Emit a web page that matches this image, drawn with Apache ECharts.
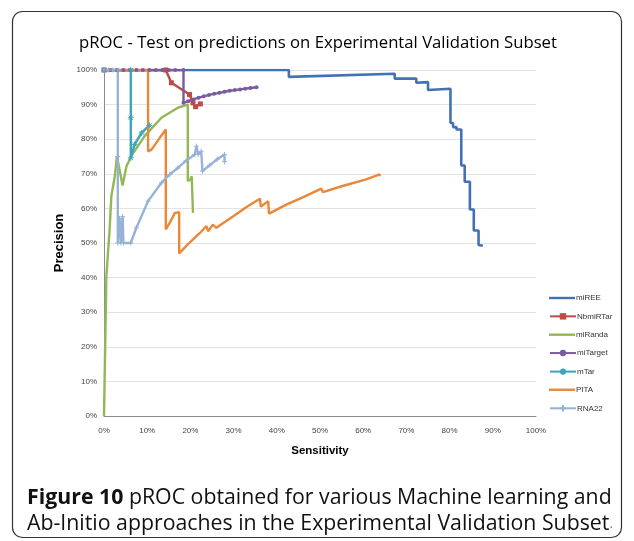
<!DOCTYPE html>
<html>
<head>
<meta charset="utf-8">
<script src="https://cdn.jsdelivr.net/npm/echarts@6/dist/echarts.min.js"></script>
<style>
  html, body { margin: 0; padding: 0; background: #fff; }
  #chart { width: 634px; height: 541px; }
</style>
</head>
<body>
<div id="chart"></div>
<script>
  // [sensitivity %, precision %]
  var miREE = [[0,100],[42.8,100],[42.8,98.0],[67.3,98.9],[67.3,97.5],[72.3,97.5],[72.3,96.3],[75,96.5],[75,94.2],
    [80.2,94.6],[80.2,84.7],[80.8,84.7],[80.8,83.5],[81.6,83.5],[81.6,82.8],[82.7,82.8],[82.7,72.4],[83.5,72.4],
    [83.5,67.7],[84.7,67.7],[84.7,59.7],[85.6,59.7],[85.6,53.6],[86.7,53.6],[86.7,49.4],[87.7,49.2]];
  var nbmiRTar = [[0,100],[14.3,100],[15.6,96.3],[19.8,92.9],[20.6,90.5],[21.2,89.4],[22.3,90.2]];
  var miRanda = [[0,0],[0.55,40.4],[1.3,53.9],[1.7,63.5],[2.5,69.3],[3.0,75.1],[4.3,66.6],[5.2,72.2],[6.3,75.1],
    [9.4,80.9],[13.3,86.2],[17.1,89.1],[19.4,90.0],[19.4,67.9],[20.0,68.3],[20.3,69.3],[20.6,69.2],[20.6,58.7]];
  var miTarget = [[0,100],[1.5,100],[3.0,100],[4.5,100],[6.0,100],[7.5,100],[9.0,100],[10.5,100],[12.0,100],
    [13.5,100],[15.0,100],[16.5,100],[18.4,100],[18.4,90.5],[19.5,91.0],[20.7,91.5],[21.9,92.0],[23.1,92.4],
    [24.3,92.8],[25.5,93.1],[26.7,93.4],[27.9,93.7],[29.1,94.0],[30.3,94.2],[31.5,94.4],[32.7,94.6],[33.9,94.8],[35.3,95.0]];
  var mTar = [[0,100],[6.2,100],[6.2,86.2],[6.2,74.6],[7.1,78.5],[8.7,81.8],[10.5,84.0]];
  var pita = [[0,100],[10.2,100],[10.2,76.5],[11.0,77.0],[12.9,80.4],[14.3,82.8],[14.3,53.9],[15.2,55.8],[16.4,58.7],
    [17.4,58.9],[17.4,47.0],[19.4,49.6],[22.2,52.9],[23.7,54.9],[24.1,53.4],[25.2,55.3],[26.0,54.4],[30.0,57.8],
    [33.0,60.4],[36.1,62.8],[36.3,60.5],[38.0,62.1],[38.2,58.5],[42.2,61.1],[46.0,63.2],[50.3,65.7],[50.7,64.7],
    [55.0,66.4],[60.7,68.4],[63.8,69.8],[63.8,69.3]];
  var rna22 = [[0,100],[1.0,100],[2.0,100],[3.2,100],[3.2,75.0],[3.2,50.0],[3.6,57.1],[3.9,50.0],[4.3,57.6],
    [4.5,50.0],[6.2,50.0],[7.5,54.4],[10.2,62.1],[13.3,67.4],[15.2,69.8],[17.1,71.7],[19.0,73.8],[21.0,75.6],
    [21.4,78.0],[21.8,75.6],[22.5,76.5],[22.8,70.8],[24.5,72.5],[26.2,74.2],[27.9,75.6],[27.9,73.5]];
  var tickLabels = ['0%','10%','20%','30%','40%','50%','60%','70%','80%','90%','100%'];
  var legendNames = ['miREE', 'NbmiRTar', 'miRanda', 'miTarget', 'mTar', 'PITA', 'RNA22'];
  var plainLine = { miREE: true, miRanda: true, PITA: true };

  var starPath = 'path://M0,5L10,5M5,0L5,10M1.5,1.5L8.5,8.5M8.5,1.5L1.5,8.5';
  var plusPath = 'path://M0,5L10,5M5,0L5,10';

  function line(name, data, color, extra) {
    var s = {
      name: name, type: 'line', data: data,
      symbol: 'none', showSymbol: false,
      lineStyle: { color: color, width: 2.4 },
      itemStyle: { color: color },
      animation: false
    };
    for (var k in extra) s[k] = extra[k];
    return s;
  }

  // one small legend per entry, so plain lines and marker lines can get different icons
  var legends = legendNames.map(function (n, i) {
    var plain = plainLine[n];
    return {
      data: [plain ? { name: n, icon: 'rect' } : n],
      orient: 'vertical', left: 544, top: 289 + i * 18.35,
      itemWidth: 26, itemHeight: plain ? 2.4 : 8,
      textStyle: { fontSize: 8, color: '#333', fontFamily: 'Liberation Sans', padding: [0, 0, 0, -4] }
    };
  });

  var chart = echarts.init(document.getElementById('chart'));
  chart.setOption({
    animation: false,
    backgroundColor: '#fff',
    title: {
      text: 'pROC - Test on predictions on Experimental Validation Subset',
      left: 313, textAlign: 'center', top: 30,
      textStyle: { fontFamily: 'Open Sans', fontSize: 16.7, fontWeight: 'normal', color: '#000' }
    },
    grid: { left: 104, right: 98, top: 70, bottom: 125 },
    xAxis: {
      type: 'value', min: 0, max: 100, interval: 10,
      name: 'Sensitivity', nameLocation: 'middle', nameGap: 29,
      nameTextStyle: { fontFamily: 'Liberation Sans', fontWeight: 'bold', fontSize: 11.5, color: '#000' },
      axisLine: { lineStyle: { color: '#8c8c8c', width: 1 } },
      axisTick: { show: false },
      splitLine: { show: false },
      axisLabel: { fontSize: 8, color: '#444', fontFamily: 'Liberation Sans', margin: 11,
        formatter: function (v) { return tickLabels[Math.round(v / 10)]; } }
    },
    yAxis: {
      type: 'value', min: 0, max: 100, interval: 10,
      name: 'Precision', nameLocation: 'middle', nameGap: 34,
      nameTextStyle: { fontFamily: 'Liberation Sans', fontWeight: 'bold', fontSize: 13, color: '#000' },
      axisLine: { show: true, lineStyle: { color: '#8c8c8c', width: 1 } },
      axisTick: { show: false },
      splitLine: { lineStyle: { color: '#e3e3e3', width: 1 } },
      axisLabel: { fontSize: 8, color: '#444', fontFamily: 'Liberation Sans', margin: 7,
        formatter: function (v) { return tickLabels[Math.round(v / 10)]; } }
    },
    legend: legends,
    series: [
      line('miREE', miREE, '#4272b3', { lineStyle: { color: '#4272b3', width: 2.6 } }),
      line('NbmiRTar', nbmiRTar, '#be4b48', { symbol: 'rect', showSymbol: true, symbolSize: 5 }),
      line('miRanda', miRanda, '#94b755'),
      line('miTarget', miTarget, '#7a5c9e', { symbol: 'circle', showSymbol: true, symbolSize: 4 }),
      line('mTar', mTar, '#3fa3bb', { symbol: starPath, showSymbol: true, symbolSize: 6,
        itemStyle: { color: 'rgba(0,0,0,0)', borderColor: '#3fa3bb', borderWidth: 1 } }),
      line('PITA', pita, '#ea8739'),
      line('RNA22', rna22, '#96b2d9', { symbol: plusPath, showSymbol: true, symbolSize: 5,
        itemStyle: { color: 'rgba(0,0,0,0)', borderColor: '#96b2d9', borderWidth: 1 } })
    ],
    graphic: [
      { type: 'rect', shape: { x: 12.5, y: 11.5, width: 609, height: 526, r: 10 }, silent: true,
        style: { fill: 'none', stroke: '#333', lineWidth: 1.2 } },
      { type: 'text', left: 27, top: 485,
        style: {
          text: '{b|Figure 10} pROC obtained for various Machine learning and\nAb-Initio approaches in the Experimental Validation Subset{p|.}',
          font: '21.3px "Open Sans"', fill: '#111', lineHeight: 26,
          rich: {
            b: { fontFamily: 'Open Sans', fontSize: 21.3, fontWeight: 'bold', fill: '#111' },
            p: { fontFamily: 'Open Sans', fontSize: 13, fill: '#777' }
          }
        } }
    ]
  });
</script>
</body>
</html>
